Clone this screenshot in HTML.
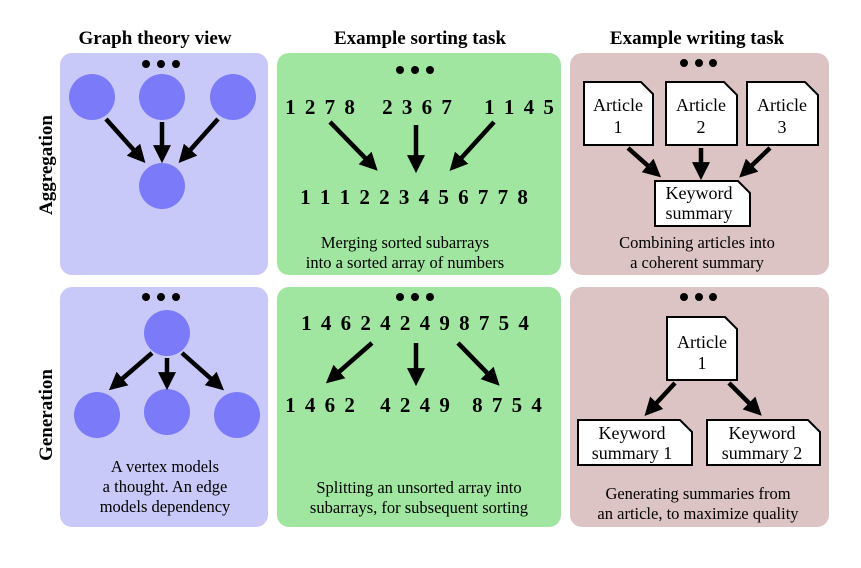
<!DOCTYPE html>
<html><head><style>body{margin:0;background:#fff}svg{display:block}</style></head><body>
<svg width="861" height="568" viewBox="0 0 861 568" xmlns="http://www.w3.org/2000/svg" font-family="Liberation Serif, serif">
<defs>
<marker id="a" markerWidth="4" markerHeight="4" refX="2.2" refY="2" orient="auto" markerUnits="strokeWidth"><path d="M0,0 L4,2 L0,4 Z" fill="#000"/></marker>
</defs>
<g font-weight="bold" font-size="19" text-anchor="middle">
<text x="155" y="44">Graph theory view</text>
<text x="420" y="44">Example sorting task</text>
<text x="697" y="44">Example writing task</text>
<text transform="translate(52,165) rotate(-90)">Aggregation</text>
<text transform="translate(52,415) rotate(-90)">Generation</text>
</g>
<rect x="60" y="53" width="208" height="222" rx="12" fill="#c9c9f9"/>
<rect x="60" y="287" width="208" height="240" rx="12" fill="#c9c9f9"/>
<rect x="277" y="53" width="284" height="222" rx="12" fill="#a0e6a0"/>
<rect x="277" y="287" width="284" height="240" rx="12" fill="#a0e6a0"/>
<rect x="570" y="53" width="259" height="222" rx="12" fill="#dcc4c4"/>
<rect x="570" y="287" width="259" height="240" rx="12" fill="#dcc4c4"/>
<g fill="#000">
<circle cx="146" cy="64" r="4"/><circle cx="161" cy="64" r="4"/><circle cx="176" cy="64" r="4"/>
<circle cx="400" cy="70" r="4"/><circle cx="415" cy="70" r="4"/><circle cx="430" cy="70" r="4"/>
<circle cx="684" cy="63" r="4"/><circle cx="699" cy="63" r="4"/><circle cx="713" cy="63" r="4"/>
<circle cx="146" cy="297" r="4"/><circle cx="161" cy="297" r="4"/><circle cx="176" cy="297" r="4"/>
<circle cx="400" cy="297" r="4"/><circle cx="415" cy="297" r="4"/><circle cx="430" cy="297" r="4"/>
<circle cx="684" cy="297" r="4"/><circle cx="699" cy="297" r="4"/><circle cx="713" cy="297" r="4"/>
</g>
<g fill="#7b7bf9">
<circle cx="92" cy="97" r="23"/><circle cx="162" cy="97" r="23"/><circle cx="233" cy="97" r="23"/><circle cx="162" cy="186" r="23"/>
<circle cx="167" cy="333" r="23"/><circle cx="97" cy="415" r="23"/><circle cx="167" cy="412" r="23"/><circle cx="237" cy="415" r="23"/>
</g>
<g stroke="#000" stroke-width="4.5" marker-end="url(#a)">
<line x1="106" y1="119" x2="140" y2="157"/><line x1="162" y1="122" x2="162" y2="155"/><line x1="218" y1="119" x2="184" y2="157"/>
<line x1="152" y1="353" x2="115" y2="385"/><line x1="167" y1="358" x2="167" y2="382"/><line x1="182" y1="353" x2="218" y2="385"/>
<line x1="330" y1="122" x2="372" y2="165"/><line x1="416" y1="125" x2="416" y2="165"/><line x1="494" y1="122" x2="455" y2="165"/>
<line x1="372" y1="343" x2="332" y2="378"/><line x1="416" y1="343" x2="416" y2="378"/><line x1="458" y1="343" x2="494" y2="380"/>
<line x1="628" y1="148" x2="655" y2="172"/><line x1="701" y1="148" x2="701" y2="172"/><line x1="770" y1="148" x2="745" y2="172"/>
<line x1="675" y1="383" x2="650" y2="410"/><line x1="729" y1="383" x2="756" y2="410"/>
</g>
<g font-weight="bold" font-size="21" text-anchor="middle" letter-spacing="2">
<text x="321" y="114">1 2 7 8</text><text x="418" y="114">2 3 6 7</text><text x="520" y="114">1 1 4 5</text>
<text x="415" y="204">1 1 1 2 2 3 4 5 6 7 7 8</text>
<text x="416" y="330">1 4 6 2 4 2 4 9 8 7 5 4</text>
<text x="321" y="412">1 4 6 2</text><text x="416" y="412">4 2 4 9</text><text x="508" y="412">8 7 5 4</text>
</g>
<g fill="#fff" stroke="#000" stroke-width="2">
<path d="M584,82 H641 L653,94 V145 H584 Z"/>
<path d="M666,82 H724 L737,95 V145 H666 Z"/>
<path d="M747,82 H805 L818,95 V145 H747 Z"/>
<path d="M655,181 H738 L750,193 V226 H655 Z"/>
<path d="M667,317 H725 L737,329 V380 H667 Z"/>
<path d="M578,420 H680 L692,432 V465 H578 Z"/>
<path d="M707,420 H808 L820,432 V465 H707 Z"/>
</g>
<g font-size="18" text-anchor="middle" fill="#000">
<text x="618" y="111">Article</text><text x="618" y="133">1</text>
<text x="701" y="111">Article</text><text x="701" y="133">2</text>
<text x="782" y="111">Article</text><text x="782" y="133">3</text>
<text x="699" y="199">Keyword</text><text x="699" y="219">summary</text>
<text x="702" y="348">Article</text><text x="702" y="369">1</text>
<text x="632" y="439">Keyword</text><text x="632" y="459">summary 1</text>
<text x="762" y="439">Keyword</text><text x="762" y="459">summary 2</text>
</g>
<g font-size="16.5" text-anchor="middle" fill="#000">
<text x="165" y="472">A vertex models</text><text x="165" y="492">a thought. An edge</text><text x="165" y="512">models dependency</text>
<text x="405" y="248">Merging sorted subarrays</text><text x="405" y="268">into a sorted array of numbers</text>
<text x="419" y="493">Splitting an unsorted array into</text><text x="419" y="513">subarrays, for subsequent sorting</text>
<text x="697" y="248">Combining articles into</text><text x="697" y="268">a coherent summary</text>
<text x="698" y="499">Generating summaries from</text><text x="698" y="519">an article, to maximize quality</text>
</g>
</svg>
</body></html>
